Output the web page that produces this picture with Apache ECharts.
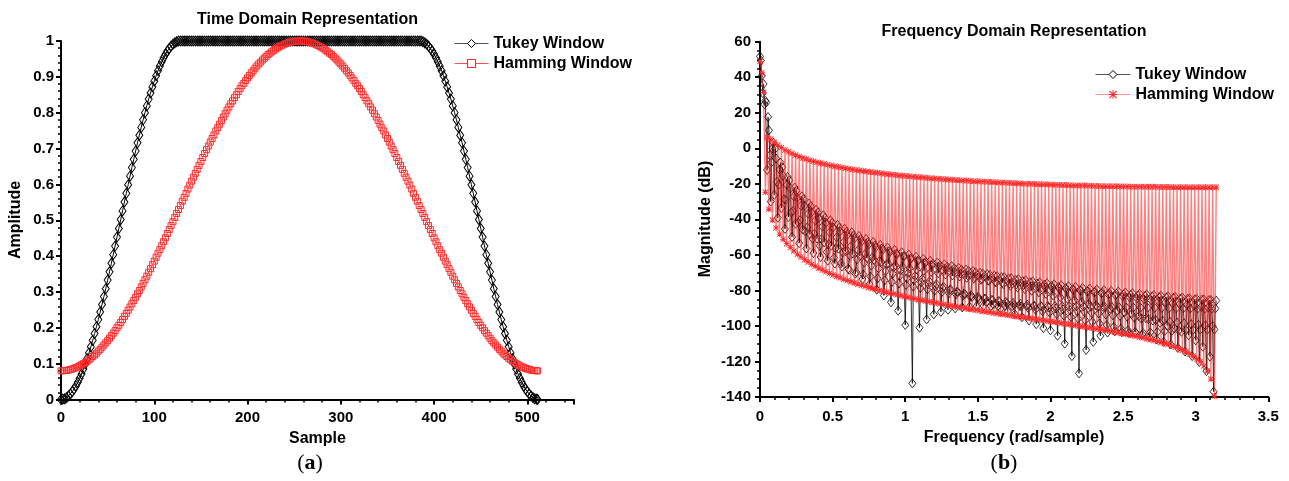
<!DOCTYPE html>
<html><head><meta charset="utf-8">
<script src="https://cdn.jsdelivr.net/npm/echarts/dist/echarts.min.js"></script>
<style>
html,body{margin:0;padding:0;background:#fff;}
#wrap{position:relative;width:1289px;height:481px;background:#fff;}
#a{position:absolute;left:0;top:0;width:650px;height:481px;}
#b{position:absolute;left:650px;top:0;width:639px;height:481px;}
</style></head><body>
<div id="wrap"><div id="a"></div><div id="b"></div></div>
<script>
// ---------- (a) time domain ----------
const SAMPLE_STEP = 2;      // every 2nd sample index is drawn (last = 511)
const TUKEY_TIME = [0,.001,.002,.005,.010,.015,.022,.029,.038,.048,.059,.071,.085,.099,.114,.130,.147,.165,.184,.203,.223,.244,.265,.287,.309,.333,.356,.380,.404,.428,.453,.477,.502,.526,.551,.575,.599,.623,.647,.670,.693,.716,.737,.759,.780,.800,.819,.838,.855,.872,.888,.903,.917,.930,.942,.953,.963,.972,.979,.986,.991,.995,.998,1.000,
1,1,1,1,1,1,1,1,1,1,1,1,1,1,1,1,1,1,1,1,1,1,1,1,1,1,1,1,1,1,1,1,1,1,1,1,1,1,1,1,1,1,1,
1,1,1,1,1,1,1,1,1,1,1,1,1,1,1,1,1,1,1,1,1,1,1,1,1,1,1,1,1,1,1,1,1,1,1,1,1,1,1,1,1,1,1,
1,1,1,1,1,1,1,1,1,1,1,1,1,1,1,1,1,1,1,1,1,1,1,1,1,1,1,1,1,1,1,1,1,1,1,1,1,1,1,1,1,1,1,
1.000,.998,.995,.991,.986,.979,.972,.963,.953,.942,.930,.917,.903,.888,.872,.855,.838,.819,.800,.780,.759,.737,.716,.693,.670,.647,.623,.599,.575,.551,.526,.502,.477,.453,.428,.404,.380,.356,.333,.309,.287,.265,.244,.223,.203,.184,.165,.147,.130,.114,.099,.085,.071,.059,.048,.038,.029,.022,.015,.010,.005,.002,.001,0];
const HAMMING_TIME = [.080,.080,.081,.081,.082,.084,.085,.087,.089,.091,.094,.097,.100,.103,.107,.111,.115,.120,.124,.129,
.135,.140,.146,.152,.158,.164,.171,.178,.185,.192,.200,.207,.215,.223,.232,.240,.249,.258,.267,.276,
.285,.295,.304,.314,.324,.334,.344,.355,.365,.376,.386,.397,.408,.418,.429,.440,.451,.463,.474,.485,
.496,.508,.519,.530,.541,.553,.564,.575,.587,.598,.609,.620,.631,.642,.653,.664,.675,.686,.697,.707,
.718,.728,.738,.749,.758,.768,.778,.788,.797,.807,.816,.825,.833,.842,.850,.859,.867,.875,.882,.890,
.897,.904,.911,.917,.924,.930,.936,.941,.947,.952,.957,.962,.966,.970,.974,.978,.981,.984,.987,.989,
.992,.994,.995,.997,.998,.999,1.000,1.000,1.000,
1.000,1.000,.999,.998,.997,.995,.994,.992,.989,.987,.984,.981,.978,.974,.970,.966,.962,.957,
.952,.947,.941,.936,.930,.924,.917,.911,.904,.897,.890,.882,.875,.867,.859,.850,.842,.833,.825,.816,
.807,.797,.788,.778,.768,.758,.749,.738,.728,.718,.707,.697,.686,.675,.664,.653,.642,.631,.620,.609,
.598,.587,.575,.564,.553,.541,.530,.519,.508,.496,.485,.474,.463,.451,.440,.429,.418,.408,.397,.386,
.376,.365,.355,.344,.334,.324,.314,.304,.295,.285,.276,.267,.258,.249,.240,.232,.223,.215,.207,.200,
.192,.185,.178,.171,.164,.158,.152,.146,.140,.135,.129,.124,.120,.115,.111,.107,.103,.100,.097,.094,
.091,.089,.087,.085,.084,.082,.081,.081,.080,.080];
const TIME_X_TICKS = {min:0, max:550, interval:100};
const TIME_Y_TICKS = {min:0, max:1, interval:0.1};

// ---------- (b) frequency domain (dB) ----------
const TUKEY_FREQ_POINTS = 512;   // bins over 0..pi
const TUKEY_FREQ_DB = [
51.7,49.4,40.8,31.1,36.2,24.8,26.7,25.8,
-12.2,17.6,10.1,-3.9,-30.0,-7.9,0.0,3.2,
-26.2,-0.2,-5.7,-18.8,-39.1,-20.5,-11.9,-8.1,
-33.6,-10.7,-15.5,-28.7,-45.4,-29.0,-20.6,-16.1,
-38.7,-18.1,-22.5,-36.1,-49.9,-35.3,-27.1,-22.1,
-42.5,-23.9,-27.8,-41.9,-53.4,-40.4,-32.4,-27.0,
-45.8,-28.6,-32.3,-46.8,-56.4,-44.5,-36.8,-31.1,
-48.4,-32.6,-36.0,-51.0,-59.0,-48.1,-40.7,-34.6,
-50.8,-36.1,-39.2,-54.9,-61.2,-51.1,-44.1,-37.7,
-53.0,-39.2,-42.0,-58.4,-63.3,-53.9,-47.2,-40.5,
-54.9,-42.0,-44.5,-61.6,-64.9,-56.3,-50.1,-43.0,
-56.5,-44.6,-46.8,-64.7,-66.5,-58.6,-52.7,-45.2,
-57.8,-46.9,-48.8,-67.7,-68.4,-60.6,-55.1,-47.3,
-59.3,-49.0,-50.7,-70.6,-69.7,-62.6,-57.3,-49.3,
-60.6,-51.0,-52.5,-73.6,-71.0,-64.4,-59.5,-51.0,
-61.8,-52.9,-54.1,-76.5,-72.2,-66.0,-61.5,-52.7,
-62.8,-54.6,-55.6,-79.6,-73.2,-67.6,-63.4,-54.3,
-63.9,-56.3,-57.0,-82.9,-74.3,-69.1,-65.3,-55.8,
-64.9,-57.8,-58.3,-86.7,-75.2,-70.5,-67.0,-57.2,
-65.8,-59.3,-59.6,-91.4,-76.1,-71.8,-68.7,-58.5,
-66.6,-60.7,-60.7,-99.5,-76.9,-73.1,-70.3,-59.8,
-67.5,-62.1,-61.8,-132.3,-77.8,-74.3,-71.9,-61.0,
-68.2,-63.4,-62.9,-101.0,-78.6,-75.5,-73.5,-62.2,
-68.9,-64.7,-63.8,-96.3,-79.4,-76.6,-74.9,-63.3,
-69.6,-65.9,-64.8,-93.5,-80.1,-77.7,-76.4,-64.3,
-70.3,-67.1,-65.7,-92.1,-80.9,-78.7,-77.9,-65.3,
-71.0,-68.3,-66.6,-90.9,-81.6,-79.8,-79.4,-66.3,
-71.6,-69.4,-67.5,-90.1,-82.2,-80.8,-80.8,-67.3,
-72.2,-70.5,-68.3,-89.6,-82.9,-81.8,-82.2,-68.2,
-72.9,-71.5,-69.0,-89.2,-83.6,-82.8,-83.7,-69.1,
-73.4,-72.5,-69.8,-88.9,-84.2,-83.7,-85.1,-70.0,
-74.0,-73.5,-70.5,-88.7,-84.8,-84.6,-86.6,-70.8,
-74.5,-74.5,-71.2,-88.9,-85.4,-85.5,-88.0,-71.7,
-75.1,-75.5,-71.9,-88.9,-86.0,-86.4,-90.1,-72.5,
-75.6,-76.5,-72.5,-88.8,-86.5,-87.3,-91.7,-73.2,
-76.1,-77.4,-73.1,-88.8,-87.0,-88.2,-93.4,-74.0,
-76.5,-78.3,-73.7,-88.7,-87.5,-89.0,-95.1,-74.7,
-77.0,-79.2,-74.3,-88.7,-88.1,-89.9,-96.9,-75.4,
-77.5,-80.2,-74.9,-88.7,-88.7,-90.8,-99.0,-76.1,
-77.9,-81.1,-75.4,-88.7,-89.2,-91.6,-101.2,-76.8,
-78.3,-82.0,-75.9,-88.7,-89.7,-92.4,-102.5,-77.4,
-78.7,-82.9,-76.5,-88.8,-90.2,-93.3,-105.5,-78.0,
-79.1,-83.8,-77.0,-88.9,-90.7,-94.2,-110.0,-78.7,
-79.5,-84.7,-77.5,-88.9,-91.1,-95.0,-117.0,-79.3,
-79.9,-85.6,-78.0,-88.9,-91.6,-95.9,-126.7,-79.9,
-80.2,-86.6,-78.5,-89.1,-92.1,-96.8,-113.5,-80.5,
-80.6,-87.5,-78.9,-89.2,-92.6,-97.7,-109.0,-81.1,
-80.9,-88.4,-79.4,-89.3,-93.0,-98.6,-105.6,-81.7,
-81.3,-89.3,-79.8,-89.3,-93.5,-99.5,-103.7,-82.3,
-81.6,-90.3,-80.2,-89.4,-94.0,-100.5,-103.0,-82.8,
-81.9,-91.3,-80.6,-89.5,-94.4,-101.5,-103.5,-83.4,
-82.2,-92.3,-81.1,-89.6,-94.8,-102.5,-104.0,-84.0,
-82.5,-93.4,-81.5,-89.6,-95.3,-103.4,-104.1,-84.5,
-82.8,-94.5,-81.9,-89.7,-95.8,-104.9,-104.0,-85.0,
-83.1,-95.7,-82.2,-89.8,-96.2,-106.2,-103.6,-85.6,
-83.4,-97.0,-82.6,-89.8,-96.7,-107.5,-103.3,-86.1,
-83.7,-98.3,-83.0,-89.9,-97.1,-109.0,-103.0,-86.6,
-83.9,-99.8,-83.3,-90.0,-97.6,-110.5,-102.8,-87.1,
-84.2,-101.4,-83.7,-90.1,-98.1,-112.4,-102.6,-87.6,
-84.5,-103.3,-84.0,-90.1,-98.5,-114.4,-102.4,-88.1,
-84.7,-105.2,-84.4,-90.2,-99.0,-117.0,-102.2,-88.6,
-85.0,-108.1,-84.7,-90.3,-99.4,-120.3,-102.1,-89.3,
-85.2,-111.7,-85.0,-90.3,-99.7,-125.4,-102.1,-89.7,
-85.4,-117.3,-85.4,-90.3,-100.1,-137.0,-102.0,-90.2,
-85.7];
const HAMMING_FREQ_POINTS = 256;
const HAMMING_FREQ_DB = [
48.8,42.5,31.5,-24.8,6.1,-34.3,5.2,-40.4,3.4,-44.8,1.8,-48.3,0.4,-51.2,-0.9,-53.7,
-2.0,-55.9,-2.9,-57.8,-3.8,-59.6,-4.6,-61.2,-5.4,-62.7,-6.0,-64.0,-6.7,-65.3,-7.3,-66.4,
-7.8,-67.5,-8.3,-68.5,-8.8,-69.5,-9.3,-70.4,-9.7,-71.3,-10.1,-72.1,-10.5,-72.9,-10.8,-73.7,
-11.2,-74.4,-11.5,-75.1,-11.9,-75.8,-12.2,-76.5,-12.5,-77.1,-12.8,-77.7,-13.1,-78.3,-13.3,-78.9,
-13.6,-79.5,-13.8,-80.0,-14.1,-80.5,-14.3,-81.0,-14.6,-81.6,-14.8,-82.0,-15.0,-82.5,-15.2,-83.0,
-15.4,-83.4,-15.6,-83.9,-15.8,-84.3,-16.0,-84.8,-16.2,-85.2,-16.3,-85.6,-16.5,-86.0,-16.7,-86.4,
-16.8,-86.8,-17.0,-87.1,-17.1,-87.5,-17.3,-87.9,-17.4,-88.3,-17.6,-88.6,-17.7,-89.0,-17.9,-89.3,
-18.0,-89.7,-18.1,-90.0,-18.2,-90.4,-18.4,-90.7,-18.5,-91.0,-18.6,-91.4,-18.7,-91.7,-18.8,-92.0,
-18.9,-92.3,-19.0,-92.7,-19.1,-93.0,-19.2,-93.3,-19.3,-93.6,-19.4,-93.9,-19.5,-94.2,-19.6,-94.5,
-19.7,-94.8,-19.8,-95.1,-19.9,-95.4,-20.0,-95.7,-20.0,-96.0,-20.1,-96.3,-20.2,-96.6,-20.3,-96.9,
-20.3,-97.2,-20.4,-97.5,-20.5,-97.8,-20.5,-98.1,-20.6,-98.5,-20.7,-98.8,-20.7,-99.1,-20.8,-99.4,
-20.9,-99.7,-20.9,-100.0,-21.0,-100.3,-21.0,-100.7,-21.1,-101.0,-21.1,-101.3,-21.2,-101.7,-21.2,-102.0,
-21.3,-102.3,-21.3,-102.7,-21.4,-103.0,-21.4,-103.4,-21.4,-103.8,-21.5,-104.2,-21.5,-104.6,-21.5,-105.0,
-21.6,-105.4,-21.6,-105.8,-21.6,-106.3,-21.7,-106.7,-21.7,-107.2,-21.7,-107.7,-21.7,-108.2,-21.7,-108.8,
-21.8,-109.3,-21.8,-109.9,-21.8,-110.5,-21.8,-111.3,-21.9,-112.0,-21.9,-112.8,-21.9,-113.7,-21.9,-114.7,
-21.9,-115.8,-21.9,-117.1,-21.9,-118.6,-21.9,-120.3,-21.9,-122.5,-21.9,-125.4,-21.9,-129.9,-21.9,-139.4,
-21.9];
const FREQ_X_TICKS = {min:0, max:3.5, interval:0.5};
const FREQ_Y_TICKS = {min:-140, max:60, interval:20};

// ---------- styling ----------
const FONT = '"Liberation Sans", Arial, Helvetica, sans-serif';
const SERIF = '"Liberation Serif", "DejaVu Serif", serif';
const ASTERISK = 'path://M4.3,0H5.7V10H4.3Z M0,4.3H10V5.7H0Z M1,0L10,9L9,10L0,1Z M9,0L10,1L1,10L0,9Z';
const RED = '#ff2a2a';

function axis(t, split, margin, extraLabel){
  return Object.assign({
    type:'value',
    axisLine:{show:true, onZero:false, lineStyle:{color:'#000', width:2}},
    axisTick:{show:true, inside:false, length:5, lineStyle:{color:'#000', width:2}},
    minorTick:{show:true, splitNumber:split, length:3, lineStyle:{color:'#000', width:1.5}},
    splitLine:{show:false}, minorSplitLine:{show:false},
    axisLabel:Object.assign({color:'#000', fontFamily:FONT, fontWeight:'bold', fontSize:15, margin:margin}, extraLabel||{})
  }, t);
}
function txt(x, y, text, extra){
  return Object.assign({type:'text', x:x, y:y, silent:true,
    style:{text:text, font:'bold 16px '+FONT, fill:'#000', align:'center', verticalAlign:'middle'}}, extra||{});
}
function panelLabel(x, y, letter){
  return {type:'text', x:x, y:y, silent:true, style:{
    text:'{p|(}{q|' + letter + '}{p|)}',
    fontSize:22, fontFamily:SERIF, fill:'#000', align:'center', verticalAlign:'middle',
    rich:{p:{fontSize:22, fontFamily:SERIF, fontWeight:'normal', fill:'#000'},
          q:{fontSize:22, fontFamily:SERIF, fontWeight:'bold', fill:'#000'}}}};
}
const legendText = {fontFamily:FONT, fontWeight:'bold', fontSize:16, color:'#000'};

// ---------- chart (a) ----------
const sampleX = TUKEY_TIME.map((_, i) => Math.min(i * SAMPLE_STEP, 511));
const ca = echarts.init(document.getElementById('a'), null, {renderer:'canvas'});
ca.setOption({
  animation:false, backgroundColor:'#fff',
  grid:{left:61, right:76, top:41, bottom:81.5},
  xAxis: axis(TIME_X_TICKS, 5, 11, {showMaxLabel:false}),
  yAxis: axis(TIME_Y_TICKS, 5, 7),
  legend:{orient:'vertical', left:454, top:35.5, padding:0, itemWidth:34, itemHeight:10, itemGap:4,
    textStyle:legendText, selectedMode:false,
    data:[
      {name:'Tukey Window', itemStyle:{color:'#fff', borderColor:'#000', borderWidth:1}, lineStyle:{color:'#555', width:1}},
      {name:'Hamming Window', itemStyle:{color:'#fff', borderColor:RED, borderWidth:1.2}, lineStyle:{color:'#ff5050', width:1}}
    ]},
  series:[
    {name:'Tukey Window', type:'line', silent:true, showAllSymbol:true,
     data: sampleX.map((x, i) => [x, TUKEY_TIME[i]]),
     symbol:'diamond', symbolSize:[7,10],
     itemStyle:{color:'rgba(0,0,0,0)', borderColor:'#000', borderWidth:1},
     lineStyle:{color:'#000', width:1}},
    {name:'Hamming Window', type:'line', silent:true, showAllSymbol:true,
     data: sampleX.map((x, i) => [x, HAMMING_TIME[i]]),
     symbol:'rect', symbolSize:6,
     itemStyle:{color:'rgba(255,0,0,0)', borderColor:RED, borderWidth:1},
     lineStyle:{color:'#ff5050', width:1}}
  ],
  graphic:[
    txt(307.5, 20, 'Time Domain Representation'),
    txt(317.5, 439, 'Sample'),
    txt(16, 220, 'Amplitude', {rotation:Math.PI/2}),
    panelLabel(310, 463, 'a')
  ]
});

// ---------- chart (b) ----------
const cb = echarts.init(document.getElementById('b'), null, {renderer:'canvas'});
cb.setOption({
  animation:false, backgroundColor:'#fff',
  grid:{left:110, right:20.7, top:41.7, bottom:84},
  xAxis: axis(FREQ_X_TICKS, 5, 12),
  yAxis: axis(FREQ_Y_TICKS, 4, 9),
  legend:{orient:'vertical', left:445, top:66.5, padding:0, itemWidth:35, itemHeight:10, itemGap:4,
    textStyle:legendText, selectedMode:false,
    data:[
      {name:'Tukey Window', itemStyle:{color:'#fff', borderColor:'#000', borderWidth:1}, lineStyle:{color:'#555', width:1}},
      {name:'Hamming Window', itemStyle:{color:RED}, lineStyle:{color:'#ff9090', width:1}}
    ]},
  series:[
    {name:'Tukey Window', type:'line', silent:true, showAllSymbol:true, z:2,
     data: TUKEY_FREQ_DB.map((v, k) => [k * Math.PI / TUKEY_FREQ_POINTS, v]),
     symbol:'diamond', symbolSize:[7,9],
     itemStyle:{color:'rgba(0,0,0,0)', borderColor:'#000', borderWidth:0.8},
     lineStyle:{color:'#000', width:0.8}},
    {name:'Hamming Window', type:'line', silent:true, showAllSymbol:true, z:3,
     data: HAMMING_FREQ_DB.map((v, k) => [k * Math.PI / HAMMING_FREQ_POINTS, v]),
     symbol:ASTERISK, symbolSize:6,
     itemStyle:{color:RED},
     lineStyle:{color:'rgba(255,40,40,0.6)', width:1.4}}
  ],
  graphic:[
    txt(364, 32, 'Frequency Domain Representation'),
    txt(364, 438, 'Frequency (rad/sample)'),
    txt(56, 219, 'Magnitude (dB)', {rotation:Math.PI/2}),
    panelLabel(354, 463, 'b')
  ]
});
</script></body></html>
